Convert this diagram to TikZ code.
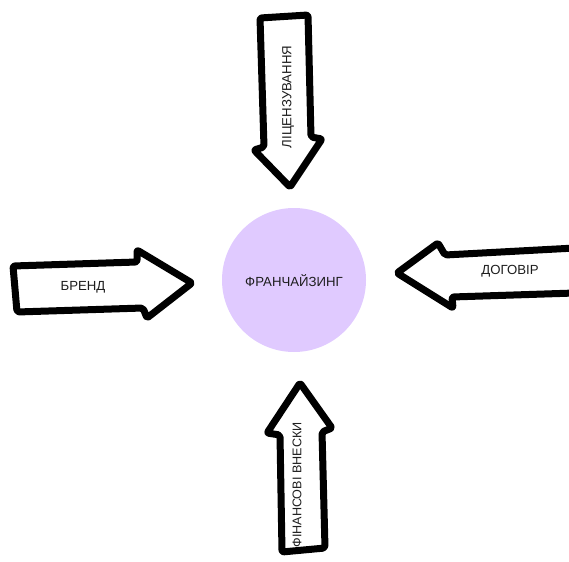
\documentclass[tikz,border=0pt]{standalone}
\usepackage{fontspec}
\setmainfont{Liberation Sans}
\definecolor{lavender}{RGB}{224,202,255}
\definecolor{ink}{RGB}{30,30,30}
\tikzset{
  fatarrow/.style={draw=black, fill=white, line width=7pt, line join=round, rounded corners=2pt},
  lbl/.style={font=\fontsize{13.2}{15}\selectfont, text=ink, inner sep=0pt},
}
\begin{document}
\begin{tikzpicture}[x=1pt,y=-1pt]
\useasboundingbox (0,0) rectangle (569,561);

% central circle
\node[circle, fill=lavender, minimum size=144pt, inner sep=0pt] (hub) at (294,280) {};
\node[lbl] (hubtext) at (294,281) {ФРАНЧАЙЗИНГ};

% top arrow, pointing down
\draw[fatarrow] (260,18) -- (308,15) -- (311,137) -- (322,139) -- (290,187)
  -- (254,150) -- (264,147) -- cycle;
\node[lbl, rotate=90] (lic) at (288,97) {ЛІЦЕНЗУВАННЯ};

% left arrow, pointing right
\draw[fatarrow] (13,266) -- (137,262) -- (137,250) -- (192,283)
  -- (147,318) -- (143,308) -- (17,312) -- cycle;
\node[lbl] (brand) at (83,287) {БРЕНД};

% right arrow, pointing left
\draw[fatarrow] (575,248) -- (445,255) -- (438,243) -- (397,273)
  -- (453,308) -- (452,297) -- (575,293);
\node[lbl] (deal) at (510,271) {ДОГОВІР};

% bottom arrow, pointing up
\draw[fatarrow] (282,552) -- (280,435) -- (267,433) -- (300,383)
  -- (332,428) -- (322,432) -- (325,548) -- cycle;
\node[lbl, font=\fontsize{12.6}{15}\selectfont, rotate=90] (fin) at (297,485) {ФІНАНСОВІ ВНЕСКИ};
\end{tikzpicture}
\end{document}
